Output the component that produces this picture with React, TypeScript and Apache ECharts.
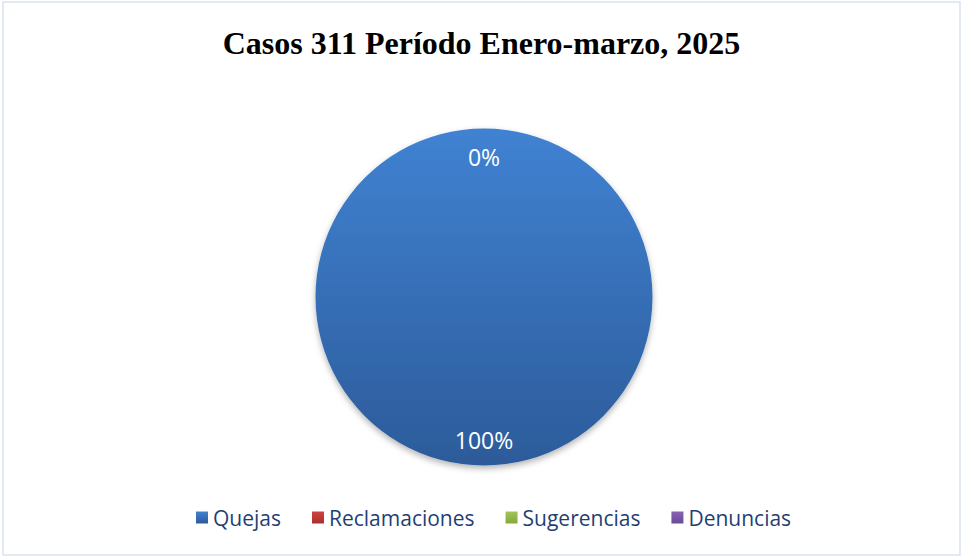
import React, { useEffect, useRef } from "react";
import * as echarts from "echarts";

const titleText = "Casos 311 Período Enero-marzo, 2025";
const categories = ["Quejas", "Reclamaciones", "Sugerencias", "Denuncias"];
const values = [100, 0, 0, 0];
const colorsTop = ["#4082d2", "#d0433e", "#a3c456", "#8663b3"];
const colorsBottom = ["#2c5b9a", "#a8302c", "#86a83e", "#6a4a94"];
const labelOffsets = [[0, 56], [0, -53], [0, -53], [0, -53]];

export default function App() {
  const ref = useRef<HTMLDivElement>(null);
  useEffect(() => {
    if (!ref.current) return;
    const chart = echarts.init(ref.current, null, { renderer: "svg" });
    const grad = (i: number) =>
      new echarts.graphic.LinearGradient(0, 0, 0, 1, [
        { offset: 0, color: colorsTop[i] },
        { offset: 1, color: colorsBottom[i] },
      ]);
    chart.setOption({
      animation: false,
      backgroundColor: "#ffffff",
      title: {
        text: titleText,
        left: "center",
        top: 22,
        textStyle: {
          fontFamily: "Liberation Serif",
          fontWeight: "bold",
          fontSize: 32,
          color: "#000000",
        },
      },
      graphic: [
        {
          type: "rect",
          shape: { x: 3, y: 2, width: 957, height: 553 },
          style: { fill: "none", stroke: "#d9e2f1", lineWidth: 1.5 },
          silent: true,
        },
      ],
      legend: {
        bottom: 24,
        left: 191,
        icon: "rect",
        itemWidth: 12,
        itemHeight: 12,
        itemGap: 31,
        textStyle: { fontFamily: "Open Sans", fontSize: 21, color: "#1f3f74" },
        data: categories,
      },
      series: [
        {
          type: "pie",
          center: [484, 297],
          radius: [0, 168.5],
          startAngle: 90,
          clockwise: true,
          avoidLabelOverlap: false,
          minShowLabelAngle: -1,
          label: {
            show: true,
            position: "inside",
            color: "#ffffff",
            fontFamily: "Open Sans",
            fontSize: 23,
            formatter: (p: any) => Math.round(p.percent) + "%",
          },
          labelLine: { show: false },
          emphasis: { disabled: true },
          data: categories.map((name, i) => ({
            name,
            value: values[i],
            itemStyle: {
              color: grad(i),
              shadowBlur: 6,
              shadowOffsetY: 3,
              shadowColor: "rgba(0,0,0,0.3)",
            },
            label: { offset: labelOffsets[i] },
          })),
        },
      ],
    });
    return () => chart.dispose();
  }, []);
  return (
    <div
      ref={ref}
      style={{ position: "fixed", left: 0, top: 0, width: 963, height: 557 }}
    />
  );
}
